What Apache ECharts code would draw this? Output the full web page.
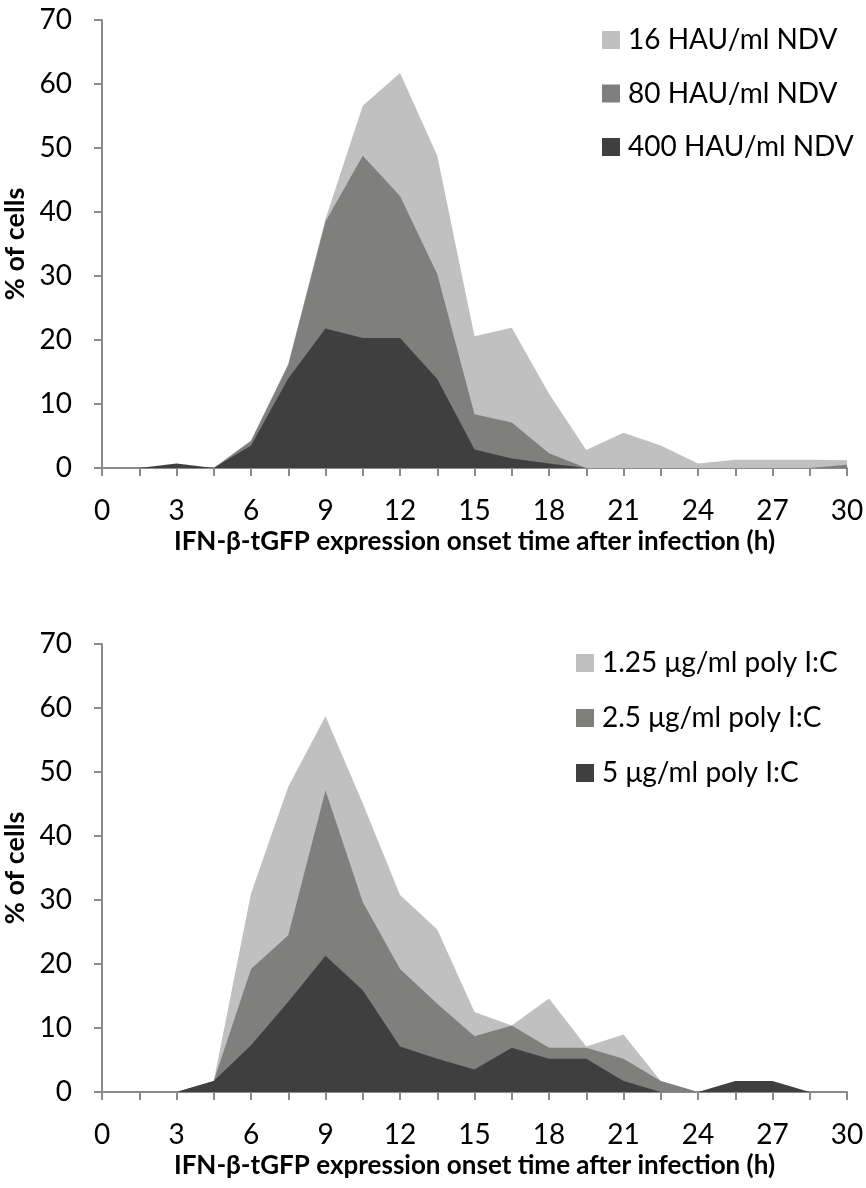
<!DOCTYPE html>
<html>
<head>
<meta charset="utf-8">
<script src="https://cdn.jsdelivr.net/npm/echarts@6/dist/echarts.min.js"></script>
<style>
  html, body { margin: 0; padding: 0; background: #fff; }
  #chart { width: 866px; height: 1188px; }
</style>
</head>
<body>
<div id="chart"></div>
<script>
// onset time (h), every 1.5 h
const hours = ['0', '1.5', '3', '4.5', '6', '7.5', '9', '10.5', '12', '13.5', '15',
  '16.5', '18', '19.5', '21', '22.5', '24', '25.5', '27', '28.5', '30'];
const yTicks = [0, 10, 20, 30, 40, 50, 60, 70];

// top panel: NDV
const ndvNames = ['16 HAU/ml NDV', '80 HAU/ml NDV', '400 HAU/ml NDV'];
const ndv16 = [0, 0, 0, 0, 4.3, 16.3, 38.9, 56.6, 61.7, 48.8, 20.6, 21.9, 11.6, 2.8, 5.5, 3.5, 0.7, 1.3, 1.3, 1.3, 1.2];
const ndv80 = [0, 0, 0, 0, 4.2, 16.1, 38.5, 48.8, 42.5, 30.3, 8.4, 7.1, 2.3, 0, 0, 0, 0, 0, 0, 0, 0.5];
const ndv400 = [0, 0, 0.7, 0, 3.5, 14.0, 21.8, 20.3, 20.3, 13.9, 2.9, 1.5, 0.7, 0, 0, 0, 0, 0, 0, 0, 0];

// bottom panel: poly I:C
const picNames = ['1.25 μg/ml poly I:C', '2.5 μg/ml poly I:C', '5 μg/ml poly I:C'];
const pic125 = [0, 0, 0, 1.7, 31.0, 47.7, 58.7, 45.1, 30.8, 25.4, 12.5, 10.4, 14.6, 7.1, 9.0, 1.7, 0, 0, 0, 0, 0];
const pic25 = [0, 0, 0, 1.7, 19.2, 24.5, 47.1, 29.7, 19.2, 13.8, 8.7, 10.4, 6.9, 6.9, 5.2, 1.7, 0, 0, 0, 0, 0];
const pic5 = [0, 0, 0, 1.7, 7.3, 14.1, 21.3, 15.9, 7.1, 5.2, 3.5, 6.9, 5.2, 5.2, 1.7, 0, 0, 1.7, 1.7, 0, 0];

const colors = ['#c0c0c0', '#7f807d', '#3f3f3f'];
const font = 'Lato, "Open Sans", sans-serif';
const axisColor = '#8a8a8a';
const xTitle = 'IFN-β-tGFP expression onset time after infection (h)';

function makeX(gridIndex) {
  return {
    type: 'category',
    gridIndex: gridIndex,
    data: hours,
    boundaryGap: false,
    name: xTitle,
    nameLocation: 'middle',
    nameGap: 61,
    nameTextStyle: { fontFamily: font, fontSize: 26, fontWeight: 'bold', color: '#000' },
    axisLine: { lineStyle: { color: axisColor, width: 2 } },
    axisTick: { show: true, interval: 0, length: 8, lineStyle: { color: axisColor, width: 2 } },
    axisLabel: { interval: 1, margin: 29, fontFamily: font, fontSize: 28, color: '#000' },
    splitLine: { show: false },
  };
}

function makeY(gridIndex) {
  return {
    type: 'value',
    gridIndex: gridIndex,
    min: yTicks[0],
    max: yTicks[yTicks.length - 1],
    interval: 10,
    name: '% of cells',
    nameLocation: 'middle',
    nameGap: 62,
    nameTextStyle: { fontFamily: font, fontSize: 27, fontWeight: 'bold', color: '#000' },
    axisLine: { show: true, lineStyle: { color: axisColor, width: 2 } },
    axisTick: { show: true, length: 8, lineStyle: { color: axisColor, width: 2 } },
    axisLabel: { margin: 30, fontFamily: font, fontSize: 28, color: '#000' },
    splitLine: { show: false },
  };
}

function makeArea(name, data, color, idx) {
  return {
    name: name,
    type: 'line',
    xAxisIndex: idx,
    yAxisIndex: idx,
    data: data,
    symbol: 'none',
    lineStyle: { width: 0 },
    itemStyle: { color: color },
    areaStyle: { color: color, opacity: 1 },
    silent: true,
  };
}

function makeLegend(names, left, top, gap) {
  return {
    data: names,
    orient: 'vertical',
    left: left,
    top: top,
    padding: 0,
    icon: 'rect',
    itemWidth: 18,
    itemHeight: 18,
    itemGap: gap,
    textStyle: { fontFamily: font, fontSize: 28, color: '#000', padding: [0, 0, 0, 3] },
  };
}

const chart = echarts.init(document.getElementById('chart'), null, { renderer: 'canvas' });
chart.setOption({
  animation: false,
  backgroundColor: '#fff',
  legend: [makeLegend(ndvNames, 602, 26, 25.5), makeLegend(picNames, 576, 649, 27)],
  grid: [
    { left: 102, right: 19, top: 20, height: 448, outerBoundsMode: 'none', containLabel: false },
    { left: 102, right: 19, top: 644, height: 448, outerBoundsMode: 'none', containLabel: false },
  ],
  xAxis: [makeX(0), makeX(1)],
  yAxis: [makeY(0), makeY(1)],
  series: [
    makeArea(ndvNames[0], ndv16, colors[0], 0),
    makeArea(ndvNames[1], ndv80, colors[1], 0),
    makeArea(ndvNames[2], ndv400, colors[2], 0),
    makeArea(picNames[0], pic125, colors[0], 1),
    makeArea(picNames[1], pic25, colors[1], 1),
    makeArea(picNames[2], pic5, colors[2], 1),
  ],
});
</script>
</body>
</html>
